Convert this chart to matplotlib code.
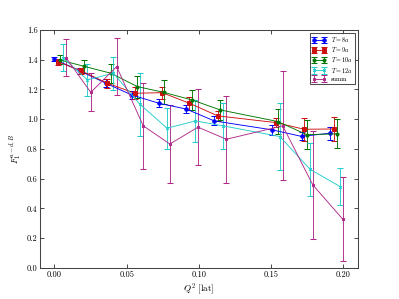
import numpy as np
import matplotlib
matplotlib.use("Agg")
import matplotlib.pyplot as plt

plt.rcParams['font.family'] = 'serif'
plt.rcParams['font.serif'] = ['cmr10', 'DejaVu Serif']
plt.rcParams['mathtext.fontset'] = 'cm'
plt.rcParams['axes.formatter.use_mathtext'] = True

# datos
labels = ['$T=8a$', '$T=9a$', '$T=10a$', '$T=12a$', 'summ']

q2_8 = [0.000, 0.0176, 0.0355, 0.0534, 0.0723, 0.0912, 0.1107, 0.1507, 0.171, 0.191]
f_8 = [1.403, 1.325, 1.242, 1.163, 1.107, 1.068, 0.988, 0.928, 0.884, 0.906]
e_8 = [0.015, 0.02, 0.025, 0.025, 0.027, 0.027, 0.03, 0.034, 0.027, 0.043]

q2_9 = [0.0022, 0.0183, 0.0367, 0.0557, 0.0746, 0.0934, 0.113, 0.1532, 0.1728, 0.1932]
f_9 = [1.387, 1.326, 1.242, 1.174, 1.178, 1.107, 1.022, 0.977, 0.932, 0.934]
e_9 = [0.02, 0.02, 0.03, 0.04, 0.04, 0.045, 0.035, 0.033, 0.076, 0.08]

q2_10 = [0.0038, 0.0206, 0.039, 0.0574, 0.0757, 0.0953, 0.1148, 0.1546, 0.1746, 0.1953]
f_10 = [1.398, 1.355, 1.309, 1.219, 1.180, 1.129, 1.062, 0.984, 0.896, 0.901]
e_10 = [0.03, 0.045, 0.063, 0.074, 0.08, 0.07, 0.065, 0.083, 0.095, 0.097]

q2_12 = [0.0057, 0.0229, 0.0408, 0.0592, 0.078, 0.0976, 0.1167, 0.156, 0.1769, 0.1976]
f_12 = [1.414, 1.264, 1.309, 1.10, 0.939, 0.988, 0.955, 0.883, 0.663, 0.547]
e_12 = [0.09, 0.11, 0.112, 0.213, 0.138, 0.14, 0.155, 0.226, 0.177, 0.127]

q2_s = [0.008, 0.0252, 0.0431, 0.0615, 0.0799, 0.0994, 0.119, 0.158, 0.1788, 0.1994]
f_s = [1.414, 1.18, 1.353, 0.955, 0.833, 0.946, 0.865, 0.955, 0.558, 0.329]
e_s = [0.127, 0.127, 0.19, 0.29, 0.26, 0.254, 0.293, 0.366, 0.364, 0.284]

series = [(q2_8, f_8, e_8), (q2_9, f_9, e_9), (q2_10, f_10, e_10),
          (q2_12, f_12, e_12), (q2_s, f_s, e_s)]
colores = ['#0000ff', '#cc1111', '#007700', '#22cccc', '#b02a8a']
marcas = ['o', 's', 'p', 'x', 's']
tamanos = [5, 6, 5, 4, 4]

fig = plt.figure(figsize=(7.98, 5.98), dpi=50)
ax = fig.add_axes([0.10, 0.104, 0.797, 0.796])

for (x, y, e), c, m, ms, lab in zip(series, colores, marcas, tamanos, labels):
    ax.errorbar(x, y, yerr=e, color=c, marker=m, ms=ms, mec=c, mew=1.5,
                lw=1.3, elinewidth=1.3, capsize=4, capthick=1.3, label=lab)

ax.set_xlim(-0.01, 0.21)
ax.set_ylim(0.0, 1.6)
ax.set_xticks(np.arange(0, 0.201, 0.05))
ax.set_yticks(np.arange(0, 1.61, 0.2))
ax.xaxis.set_major_formatter(matplotlib.ticker.FormatStrFormatter('%.2f'))
ax.yaxis.set_major_formatter(matplotlib.ticker.FormatStrFormatter('%.1f'))
ax.tick_params(direction='in', top=True, right=True, length=6, width=1, labelsize=12)
for s in ax.spines.values():
    s.set_linewidth(1.5)
    s.set_color('#444444')

ax.set_xlabel('$Q^2$ [lat]', fontsize=13)
ax.set_ylabel('$F_1^{u-d,B}$', fontsize=13)

leg = ax.legend(loc='upper right', fontsize=9, numpoints=2, handlelength=2.2,
                borderpad=0.3, labelspacing=0.2, fancybox=False)
leg.get_frame().set_edgecolor('#222222')
leg.get_frame().set_linewidth(1.5)

fig.savefig('out.png', dpi=50)
